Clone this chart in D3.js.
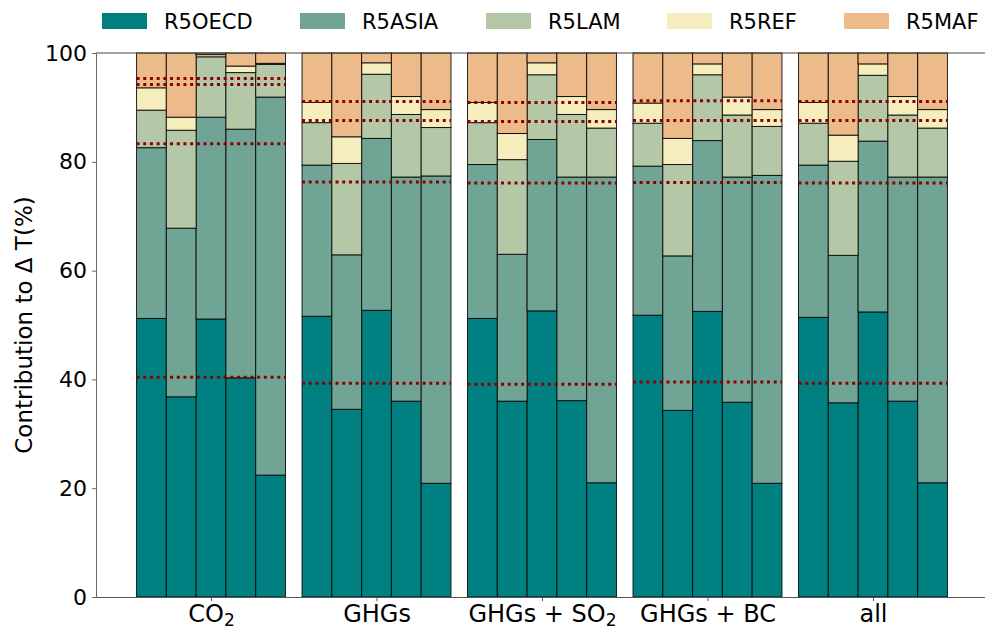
<!DOCTYPE html>
<html><head><meta charset="utf-8">
<script src="https://cdn.jsdelivr.net/npm/d3@7"></script>
<style>body{margin:0;background:#fff} text{font-family:"DejaVu Sans",sans-serif;fill:#000}</style>
</head><body><svg id="c" width="985" height="628"></svg>
<script>
// ---- data ----
const groups = ["CO2", "GHGs", "GHGs + SO2", "GHGs + BC", "all"];
const regions = ["R5OECD", "R5ASIA", "R5LAM", "R5REF", "R5MAF"];
const colors = ["#008080", "#70a494", "#b4c8a8", "#f6edbd", "#edbb8a"];
const yTicks = [0, 20, 40, 60, 80, 100];
// 5 bars per group, group-major order
const r5oecd = [51.2,36.8,51.1,40.3,22.4, 51.6,34.5,52.7,36.0,20.9, 51.2,36.0,52.6,36.1,21.0, 51.8,34.3,52.5,35.8,20.9, 51.4,35.7,52.4,36.0,21.0];
const r5asia = [31.4,31.0,37.1,45.7,69.5, 27.8,28.4,31.6,41.2,56.5, 28.3,27.0,31.5,41.1,56.2, 27.4,28.4,31.4,41.4,56.6, 28.0,27.1,31.4,41.2,56.2];
const r5lam  = [6.9,18.0,11.1,10.4,6.0, 7.8,16.8,11.8,11.5,8.9, 7.7,17.4,11.9,11.5,9.0, 7.9,16.8,12.1,11.4,9.0, 7.7,17.3,12.1,11.4,9.0];
const r5ref  = [4.1,2.4,0.4,1.2,0.2, 3.7,4.9,2.1,3.3,3.3, 3.7,4.8,2.2,3.3,3.4, 3.7,4.8,2.0,3.3,3.1, 3.8,4.8,2.1,3.4,3.4];
const r5maf  = [6.4,11.8,0.3,2.4,1.9, 9.1,15.4,1.8,8.0,10.4, 9.1,14.8,1.8,8.0,10.4, 9.2,15.7,2.0,8.1,10.4, 9.1,15.1,2.0,8.0,10.4];
// dotted reference levels (cumulative) per group
const refLevels = [
  [40.4, 83.3, 94.2, 95.3],
  [39.3, 76.3, 87.6, 91.1],
  [39.1, 76.1, 87.4, 90.9],
  [39.5, 76.2, 87.6, 91.2],
  [39.3, 76.1, 87.6, 91.1]
];
const barsPerGroup = 5;

// ---- layout ----
const svg = d3.select("#c");
const W = 0.18;
const x = d3.scaleLinear().domain([-0.695, 4.695]).range([96, 988]);
const y = d3.scaleLinear().domain([0, 100]).range([597, 53]);
const FS = 22, XFS = 24, YLFS = 23;

const rows = r5oecd.map((v, i) => ({
  g: Math.floor(i / barsPerGroup), b: i % barsPerGroup,
  R5OECD: v, R5ASIA: r5asia[i], R5LAM: r5lam[i], R5REF: r5ref[i], R5MAF: r5maf[i]
}));
const stacked = d3.stack().keys(regions)(rows);
const bx = d => d.data.g + (d.data.b - 2) * W - W / 2;

svg.append("g").selectAll("g").data(stacked).join("g")
  .attr("fill", (s, i) => colors[i])
  .selectAll("rect").data(s => s).join("rect")
  .attr("x", d => x(bx(d)))
  .attr("width", x(W) - x(0))
  .attr("y", d => y(d[1]))
  .attr("height", d => y(d[0]) - y(d[1]))
  .attr("stroke", "#000").attr("stroke-width", 1).attr("stroke-opacity", 0.85);

// dotted lines
const lineData = [];
refLevels.forEach((lv, g) => lv.forEach(v => lineData.push({g, v})));
svg.append("g").selectAll("line").data(lineData).join("line")
  .attr("x1", d => x(d.g - 2.5 * W)).attr("x2", d => x(d.g + 2.5 * W))
  .attr("y1", d => y(d.v)).attr("y2", d => y(d.v))
  .attr("stroke", "#8b0000").attr("stroke-width", 3)
  .attr("stroke-dasharray", "3,3.7");

// axes
const yAxis = svg.append("g").attr("transform", "translate(96,0)")
  .call(d3.axisLeft(y).tickValues(yTicks).tickSize(4).tickPadding(5).tickSizeOuter(0));
yAxis.selectAll("text").style("font-size", FS + "px").style("font-family", "DejaVu Sans");
yAxis.select(".domain").attr("stroke", "#666");
yAxis.selectAll(".tick line").attr("stroke", "#666");

const xAxis = svg.append("g").attr("transform", "translate(0,597)")
  .call(d3.axisBottom(x).tickValues([0, 1, 2, 3, 4]).tickSize(4).tickPadding(5).tickSizeOuter(0)
    .tickFormat(i => groups[i]));
xAxis.select(".domain").attr("stroke", "#555");
xAxis.selectAll(".tick line").attr("stroke", "#555");
xAxis.selectAll(".tick text").each(function (d) {
  const t = d3.select(this);
  const lab = groups[d];
  t.text(null).attr("y", 24.5).attr("dy", null)
    .style("font-size", XFS + "px").style("font-family", "DejaVu Sans");
  const parts = lab.split(/(\d)/).filter(p => p !== "");
  parts.forEach(p => {
    if (/^\d$/.test(p)) {
      t.append("tspan").text(p).attr("baseline-shift", "-3.5px").style("font-size", Math.round(XFS * 0.7) + "px");
    } else {
      t.append("tspan").text(p);
    }
  });
});

// top spine
svg.append("line").attr("x1", 96).attr("x2", 988).attr("y1", y(100)).attr("y2", y(100))
  .attr("stroke", "#444").attr("stroke-width", 1);

// y label
svg.append("text").attr("transform", `translate(32,${(y(0) + y(100)) / 2}) rotate(-90)`)
  .attr("text-anchor", "middle").style("font-size", YLFS + "px")
  .text("Contribution to \u0394 T(%)");

// legend
const LFS = 21;
const legX = [102, 300, 486, 667, 844];
const leg = svg.append("g");
regions.forEach((r, i) => {
  leg.append("rect").attr("x", legX[i]).attr("y", 13).attr("width", 45).attr("height", 16).attr("fill", colors[i]);
  leg.append("text").attr("x", legX[i] + 62).attr("y", 21).attr("dy", "0.36em")
    .style("font-size", LFS + "px").text(r);
});
</script></body></html>
